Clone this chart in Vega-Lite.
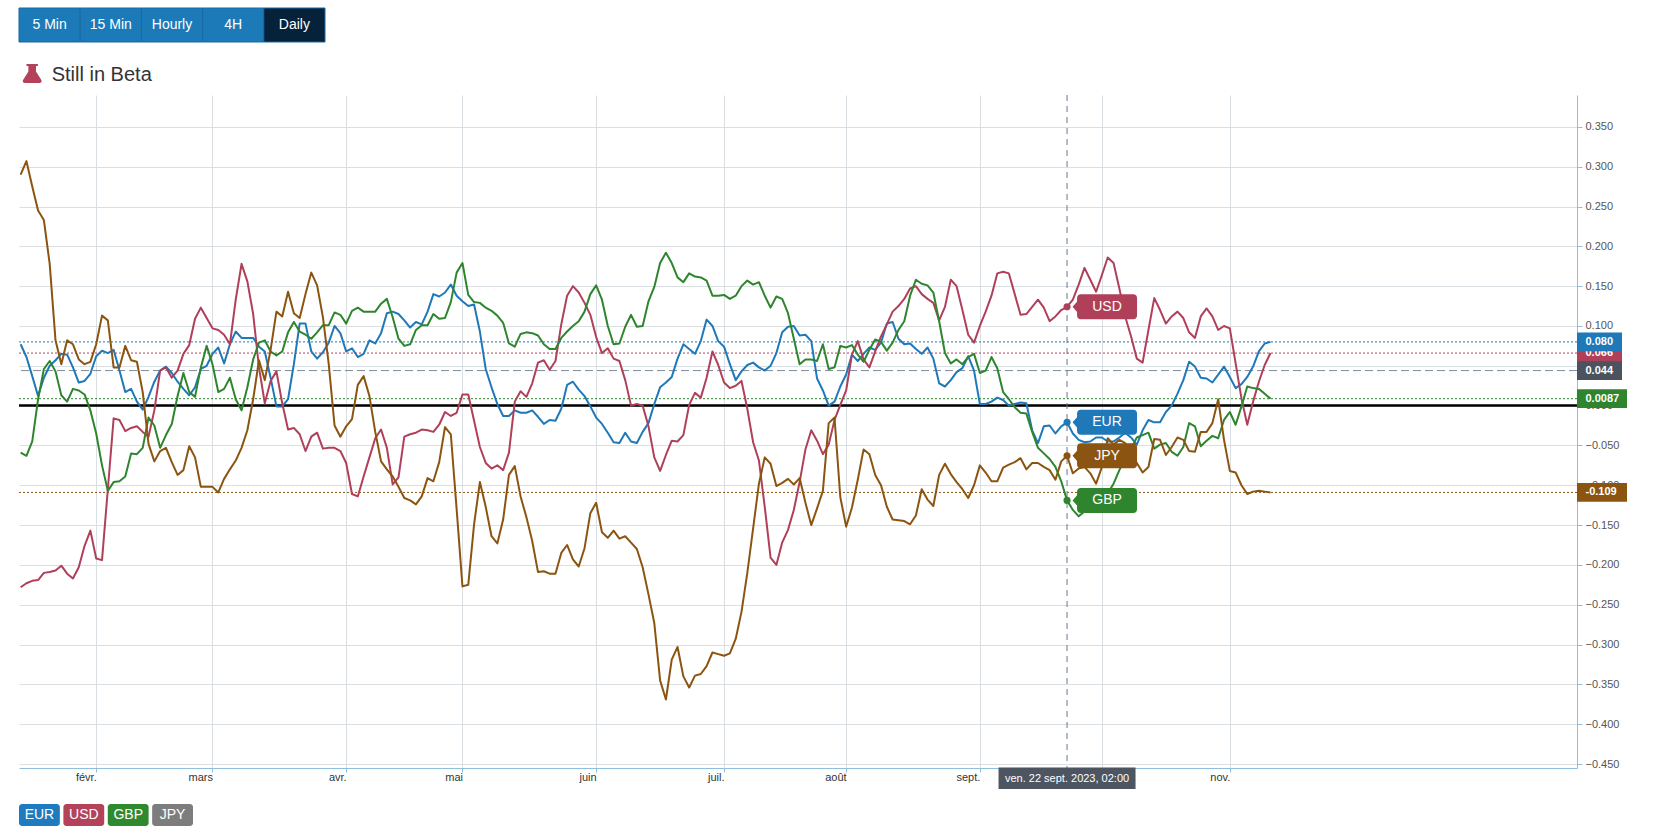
{
"$schema": "https://vega.github.io/schema/vega-lite/v6.json",
"width": 1558, "height": 673,
"autosize": {"type": "none"},
"padding": {"left": 19, "top": 95, "right": 96, "bottom": 66},
"background": "white",
"config": {"view": {"stroke": null}, "font": "Liberation Sans", "text": {"font": "Liberation Sans"}},
"datasets": {
"fx": [
{"date":"2023-01-13","EUR":0.077,"USD":-0.228,"GBP":-0.059,"JPY":0.29},
{"date":"2023-01-16","EUR":0.061,"USD":-0.223,"GBP":-0.063,"JPY":0.307},
{"date":"2023-01-17","EUR":0.037,"USD":-0.22,"GBP":-0.045,"JPY":0.275},
{"date":"2023-01-18","EUR":0.012,"USD":-0.219,"GBP":0.008,"JPY":0.245},
{"date":"2023-01-19","EUR":0.035,"USD":-0.21,"GBP":0.046,"JPY":0.233},
{"date":"2023-01-20","EUR":0.05,"USD":-0.209,"GBP":0.056,"JPY":0.178},
{"date":"2023-01-23","EUR":0.057,"USD":-0.207,"GBP":0.043,"JPY":0.082},
{"date":"2023-01-24","EUR":0.065,"USD":-0.201,"GBP":0.013,"JPY":0.052},
{"date":"2023-01-25","EUR":0.064,"USD":-0.211,"GBP":0.005,"JPY":0.082},
{"date":"2023-01-26","EUR":0.048,"USD":-0.217,"GBP":0.021,"JPY":0.077},
{"date":"2023-01-27","EUR":0.029,"USD":-0.203,"GBP":0.019,"JPY":0.058},
{"date":"2023-01-30","EUR":0.031,"USD":-0.176,"GBP":0.014,"JPY":0.052},
{"date":"2023-01-31","EUR":0.04,"USD":-0.157,"GBP":-0.006,"JPY":0.055},
{"date":"2023-02-01","EUR":0.062,"USD":-0.192,"GBP":-0.035,"JPY":0.077},
{"date":"2023-02-02","EUR":0.069,"USD":-0.194,"GBP":-0.075,"JPY":0.113},
{"date":"2023-02-03","EUR":0.066,"USD":-0.105,"GBP":-0.107,"JPY":0.107},
{"date":"2023-02-06","EUR":0.07,"USD":-0.016,"GBP":-0.096,"JPY":0.048},
{"date":"2023-02-07","EUR":0.044,"USD":-0.018,"GBP":-0.095,"JPY":0.048},
{"date":"2023-02-08","EUR":0.017,"USD":-0.032,"GBP":-0.089,"JPY":0.075},
{"date":"2023-02-09","EUR":0.021,"USD":-0.028,"GBP":-0.06,"JPY":0.057},
{"date":"2023-02-10","EUR":0.005,"USD":-0.026,"GBP":-0.061,"JPY":0.055},
{"date":"2023-02-13","EUR":-0.005,"USD":-0.033,"GBP":-0.053,"JPY":0.017},
{"date":"2023-02-14","EUR":0.011,"USD":-0.039,"GBP":-0.015,"JPY":-0.048},
{"date":"2023-02-15","EUR":0.03,"USD":-0.006,"GBP":-0.025,"JPY":-0.07},
{"date":"2023-02-16","EUR":0.044,"USD":0.044,"GBP":-0.053,"JPY":-0.057},
{"date":"2023-02-17","EUR":0.049,"USD":0.048,"GBP":-0.037,"JPY":-0.053},
{"date":"2023-02-20","EUR":0.041,"USD":0.035,"GBP":-0.023,"JPY":-0.071},
{"date":"2023-02-21","EUR":0.03,"USD":0.044,"GBP":0.012,"JPY":-0.087},
{"date":"2023-02-22","EUR":0.021,"USD":0.065,"GBP":0.041,"JPY":-0.081},
{"date":"2023-02-23","EUR":0.013,"USD":0.076,"GBP":0.017,"JPY":-0.051},
{"date":"2023-02-24","EUR":0.023,"USD":0.109,"GBP":0.011,"JPY":-0.065},
{"date":"2023-02-27","EUR":0.046,"USD":0.123,"GBP":0.048,"JPY":-0.102},
{"date":"2023-02-28","EUR":0.05,"USD":0.11,"GBP":0.075,"JPY":-0.102},
{"date":"2023-03-01","EUR":0.065,"USD":0.097,"GBP":0.052,"JPY":-0.102},
{"date":"2023-03-02","EUR":0.073,"USD":0.095,"GBP":0.017,"JPY":-0.109},
{"date":"2023-03-03","EUR":0.053,"USD":0.089,"GBP":0.021,"JPY":-0.092},
{"date":"2023-03-06","EUR":0.077,"USD":0.077,"GBP":0.035,"JPY":-0.08},
{"date":"2023-03-07","EUR":0.093,"USD":0.133,"GBP":0.008,"JPY":-0.069},
{"date":"2023-03-08","EUR":0.085,"USD":0.178,"GBP":-0.006,"JPY":-0.053},
{"date":"2023-03-09","EUR":0.085,"USD":0.156,"GBP":0.023,"JPY":-0.031},
{"date":"2023-03-10","EUR":0.085,"USD":0.115,"GBP":0.058,"JPY":0.008},
{"date":"2023-03-13","EUR":0.074,"USD":0.048,"GBP":0.079,"JPY":0.057},
{"date":"2023-03-14","EUR":0.068,"USD":0.003,"GBP":0.082,"JPY":0.032},
{"date":"2023-03-15","EUR":0.035,"USD":0.031,"GBP":0.068,"JPY":0.07},
{"date":"2023-03-16","EUR":-0.001,"USD":0.043,"GBP":0.063,"JPY":0.118},
{"date":"2023-03-17","EUR":-0.001,"USD":0.003,"GBP":0.068,"JPY":0.112},
{"date":"2023-03-20","EUR":0.008,"USD":-0.03,"GBP":0.092,"JPY":0.143},
{"date":"2023-03-21","EUR":0.052,"USD":-0.028,"GBP":0.105,"JPY":0.116},
{"date":"2023-03-22","EUR":0.103,"USD":-0.036,"GBP":0.093,"JPY":0.11},
{"date":"2023-03-23","EUR":0.103,"USD":-0.057,"GBP":0.089,"JPY":0.14},
{"date":"2023-03-24","EUR":0.068,"USD":-0.039,"GBP":0.084,"JPY":0.167},
{"date":"2023-03-27","EUR":0.059,"USD":-0.034,"GBP":0.092,"JPY":0.151},
{"date":"2023-03-28","EUR":0.067,"USD":-0.054,"GBP":0.101,"JPY":0.111},
{"date":"2023-03-29","EUR":0.079,"USD":-0.053,"GBP":0.101,"JPY":0.052},
{"date":"2023-03-30","EUR":0.1,"USD":-0.053,"GBP":0.117,"JPY":-0.025},
{"date":"2023-03-31","EUR":0.091,"USD":-0.057,"GBP":0.114,"JPY":-0.039},
{"date":"2023-04-03","EUR":0.068,"USD":-0.072,"GBP":0.103,"JPY":-0.026},
{"date":"2023-04-04","EUR":0.072,"USD":-0.111,"GBP":0.119,"JPY":-0.017},
{"date":"2023-04-05","EUR":0.061,"USD":-0.114,"GBP":0.123,"JPY":0.026},
{"date":"2023-04-06","EUR":0.065,"USD":-0.089,"GBP":0.118,"JPY":0.037},
{"date":"2023-04-07","EUR":0.082,"USD":-0.065,"GBP":0.118,"JPY":0.012},
{"date":"2023-04-10","EUR":0.078,"USD":-0.041,"GBP":0.118,"JPY":-0.033},
{"date":"2023-04-11","EUR":0.091,"USD":-0.03,"GBP":0.128,"JPY":-0.07},
{"date":"2023-04-12","EUR":0.116,"USD":-0.053,"GBP":0.134,"JPY":-0.08},
{"date":"2023-04-13","EUR":0.118,"USD":-0.099,"GBP":0.111,"JPY":-0.089},
{"date":"2023-04-14","EUR":0.115,"USD":-0.09,"GBP":0.084,"JPY":-0.102},
{"date":"2023-04-17","EUR":0.107,"USD":-0.039,"GBP":0.075,"JPY":-0.116},
{"date":"2023-04-18","EUR":0.098,"USD":-0.036,"GBP":0.077,"JPY":-0.119},
{"date":"2023-04-19","EUR":0.105,"USD":-0.034,"GBP":0.095,"JPY":-0.124},
{"date":"2023-04-20","EUR":0.102,"USD":-0.03,"GBP":0.101,"JPY":-0.114},
{"date":"2023-04-21","EUR":0.118,"USD":-0.031,"GBP":0.101,"JPY":-0.091},
{"date":"2023-04-24","EUR":0.14,"USD":-0.033,"GBP":0.115,"JPY":-0.095},
{"date":"2023-04-25","EUR":0.137,"USD":-0.024,"GBP":0.109,"JPY":-0.071},
{"date":"2023-04-26","EUR":0.142,"USD":-0.008,"GBP":0.11,"JPY":-0.027},
{"date":"2023-04-27","EUR":0.152,"USD":-0.013,"GBP":0.13,"JPY":-0.036},
{"date":"2023-04-28","EUR":0.138,"USD":-0.009,"GBP":0.167,"JPY":-0.13},
{"date":"2023-05-01","EUR":0.131,"USD":0.014,"GBP":0.179,"JPY":-0.227},
{"date":"2023-05-02","EUR":0.125,"USD":0.014,"GBP":0.139,"JPY":-0.225},
{"date":"2023-05-03","EUR":0.127,"USD":-0.019,"GBP":0.13,"JPY":-0.149},
{"date":"2023-05-04","EUR":0.093,"USD":-0.052,"GBP":0.129,"JPY":-0.096},
{"date":"2023-05-05","EUR":0.046,"USD":-0.072,"GBP":0.123,"JPY":-0.127},
{"date":"2023-05-08","EUR":0.023,"USD":-0.079,"GBP":0.119,"JPY":-0.164},
{"date":"2023-05-09","EUR":0.002,"USD":-0.075,"GBP":0.113,"JPY":-0.173},
{"date":"2023-05-10","EUR":-0.013,"USD":-0.081,"GBP":0.104,"JPY":-0.143},
{"date":"2023-05-11","EUR":-0.013,"USD":-0.059,"GBP":0.078,"JPY":-0.087},
{"date":"2023-05-12","EUR":-0.006,"USD":0.005,"GBP":0.074,"JPY":-0.076},
{"date":"2023-05-15","EUR":-0.009,"USD":0.018,"GBP":0.09,"JPY":-0.114},
{"date":"2023-05-16","EUR":-0.009,"USD":0.011,"GBP":0.092,"JPY":-0.14},
{"date":"2023-05-17","EUR":-0.006,"USD":0.028,"GBP":0.091,"JPY":-0.17},
{"date":"2023-05-18","EUR":-0.014,"USD":0.054,"GBP":0.088,"JPY":-0.209},
{"date":"2023-05-19","EUR":-0.023,"USD":0.057,"GBP":0.077,"JPY":-0.208},
{"date":"2023-05-22","EUR":-0.018,"USD":0.045,"GBP":0.071,"JPY":-0.211},
{"date":"2023-05-23","EUR":-0.019,"USD":0.056,"GBP":0.071,"JPY":-0.211},
{"date":"2023-05-24","EUR":-0.004,"USD":0.102,"GBP":0.085,"JPY":-0.185},
{"date":"2023-05-25","EUR":0.026,"USD":0.138,"GBP":0.093,"JPY":-0.175},
{"date":"2023-05-26","EUR":0.03,"USD":0.15,"GBP":0.1,"JPY":-0.193},
{"date":"2023-05-29","EUR":0.02,"USD":0.142,"GBP":0.106,"JPY":-0.202},
{"date":"2023-05-30","EUR":0.012,"USD":0.129,"GBP":0.118,"JPY":-0.179},
{"date":"2023-05-31","EUR":-0.001,"USD":0.114,"GBP":0.14,"JPY":-0.135},
{"date":"2023-06-01","EUR":-0.015,"USD":0.086,"GBP":0.151,"JPY":-0.122},
{"date":"2023-06-02","EUR":-0.023,"USD":0.066,"GBP":0.133,"JPY":-0.159},
{"date":"2023-06-05","EUR":-0.034,"USD":0.072,"GBP":0.1,"JPY":-0.166},
{"date":"2023-06-06","EUR":-0.046,"USD":0.059,"GBP":0.077,"JPY":-0.157},
{"date":"2023-06-07","EUR":-0.047,"USD":0.056,"GBP":0.078,"JPY":-0.167},
{"date":"2023-06-08","EUR":-0.034,"USD":0.032,"GBP":0.099,"JPY":-0.164},
{"date":"2023-06-09","EUR":-0.045,"USD":0.0,"GBP":0.114,"JPY":-0.172},
{"date":"2023-06-12","EUR":-0.047,"USD":0.002,"GBP":0.099,"JPY":-0.18},
{"date":"2023-06-13","EUR":-0.033,"USD":0.0,"GBP":0.1,"JPY":-0.203},
{"date":"2023-06-14","EUR":-0.022,"USD":-0.026,"GBP":0.131,"JPY":-0.237},
{"date":"2023-06-15","EUR":0.002,"USD":-0.065,"GBP":0.149,"JPY":-0.273},
{"date":"2023-06-16","EUR":0.023,"USD":-0.082,"GBP":0.179,"JPY":-0.345},
{"date":"2023-06-19","EUR":0.029,"USD":-0.062,"GBP":0.192,"JPY":-0.369},
{"date":"2023-06-20","EUR":0.036,"USD":-0.044,"GBP":0.179,"JPY":-0.319},
{"date":"2023-06-21","EUR":0.059,"USD":-0.045,"GBP":0.161,"JPY":-0.303},
{"date":"2023-06-22","EUR":0.077,"USD":-0.037,"GBP":0.155,"JPY":-0.34},
{"date":"2023-06-23","EUR":0.071,"USD":0.001,"GBP":0.166,"JPY":-0.354},
{"date":"2023-06-26","EUR":0.065,"USD":0.016,"GBP":0.162,"JPY":-0.339},
{"date":"2023-06-27","EUR":0.081,"USD":0.01,"GBP":0.161,"JPY":-0.337},
{"date":"2023-06-28","EUR":0.108,"USD":0.035,"GBP":0.157,"JPY":-0.327},
{"date":"2023-06-29","EUR":0.1,"USD":0.068,"GBP":0.138,"JPY":-0.31},
{"date":"2023-06-30","EUR":0.081,"USD":0.051,"GBP":0.138,"JPY":-0.312},
{"date":"2023-07-03","EUR":0.074,"USD":0.029,"GBP":0.139,"JPY":-0.314},
{"date":"2023-07-04","EUR":0.052,"USD":0.022,"GBP":0.134,"JPY":-0.311},
{"date":"2023-07-05","EUR":0.032,"USD":0.025,"GBP":0.138,"JPY":-0.293},
{"date":"2023-07-06","EUR":0.043,"USD":0.031,"GBP":0.15,"JPY":-0.259},
{"date":"2023-07-07","EUR":0.051,"USD":-0.004,"GBP":0.157,"JPY":-0.21},
{"date":"2023-07-10","EUR":0.054,"USD":-0.046,"GBP":0.152,"JPY":-0.154},
{"date":"2023-07-11","EUR":0.048,"USD":-0.069,"GBP":0.155,"JPY":-0.098},
{"date":"2023-07-12","EUR":0.044,"USD":-0.127,"GBP":0.138,"JPY":-0.065},
{"date":"2023-07-13","EUR":0.05,"USD":-0.191,"GBP":0.123,"JPY":-0.073},
{"date":"2023-07-14","EUR":0.066,"USD":-0.2,"GBP":0.137,"JPY":-0.101},
{"date":"2023-07-17","EUR":0.092,"USD":-0.172,"GBP":0.134,"JPY":-0.097},
{"date":"2023-07-18","EUR":0.099,"USD":-0.156,"GBP":0.116,"JPY":-0.092},
{"date":"2023-07-19","EUR":0.1,"USD":-0.131,"GBP":0.084,"JPY":-0.099},
{"date":"2023-07-20","EUR":0.088,"USD":-0.096,"GBP":0.052,"JPY":-0.091},
{"date":"2023-07-21","EUR":0.089,"USD":-0.055,"GBP":0.058,"JPY":-0.122},
{"date":"2023-07-24","EUR":0.081,"USD":-0.031,"GBP":0.058,"JPY":-0.15},
{"date":"2023-07-25","EUR":0.034,"USD":-0.044,"GBP":0.056,"JPY":-0.129},
{"date":"2023-07-26","EUR":0.019,"USD":-0.061,"GBP":0.077,"JPY":-0.107},
{"date":"2023-07-27","EUR":0.0,"USD":-0.049,"GBP":0.046,"JPY":-0.022},
{"date":"2023-07-28","EUR":0.005,"USD":-0.018,"GBP":0.048,"JPY":-0.015},
{"date":"2023-07-31","EUR":0.024,"USD":0.001,"GBP":0.075,"JPY":-0.115},
{"date":"2023-08-01","EUR":0.039,"USD":0.019,"GBP":0.073,"JPY":-0.152},
{"date":"2023-08-02","EUR":0.064,"USD":0.064,"GBP":0.076,"JPY":-0.128},
{"date":"2023-08-03","EUR":0.056,"USD":0.081,"GBP":0.064,"JPY":-0.093},
{"date":"2023-08-04","EUR":0.065,"USD":0.058,"GBP":0.055,"JPY":-0.055},
{"date":"2023-08-07","EUR":0.073,"USD":0.048,"GBP":0.07,"JPY":-0.061},
{"date":"2023-08-08","EUR":0.07,"USD":0.068,"GBP":0.083,"JPY":-0.087},
{"date":"2023-08-09","EUR":0.079,"USD":0.087,"GBP":0.08,"JPY":-0.1},
{"date":"2023-08-10","EUR":0.103,"USD":0.102,"GBP":0.069,"JPY":-0.127},
{"date":"2023-08-11","EUR":0.105,"USD":0.118,"GBP":0.079,"JPY":-0.143},
{"date":"2023-08-14","EUR":0.084,"USD":0.125,"GBP":0.095,"JPY":-0.144},
{"date":"2023-08-15","EUR":0.077,"USD":0.134,"GBP":0.106,"JPY":-0.145},
{"date":"2023-08-16","EUR":0.078,"USD":0.147,"GBP":0.138,"JPY":-0.149},
{"date":"2023-08-17","EUR":0.071,"USD":0.15,"GBP":0.158,"JPY":-0.138},
{"date":"2023-08-18","EUR":0.065,"USD":0.14,"GBP":0.153,"JPY":-0.105},
{"date":"2023-08-21","EUR":0.073,"USD":0.134,"GBP":0.151,"JPY":-0.118},
{"date":"2023-08-22","EUR":0.059,"USD":0.129,"GBP":0.142,"JPY":-0.126},
{"date":"2023-08-23","EUR":0.028,"USD":0.107,"GBP":0.106,"JPY":-0.087},
{"date":"2023-08-24","EUR":0.024,"USD":0.124,"GBP":0.066,"JPY":-0.073},
{"date":"2023-08-25","EUR":0.032,"USD":0.158,"GBP":0.053,"JPY":-0.086},
{"date":"2023-08-28","EUR":0.042,"USD":0.15,"GBP":0.058,"JPY":-0.096},
{"date":"2023-08-29","EUR":0.047,"USD":0.12,"GBP":0.052,"JPY":-0.105},
{"date":"2023-08-30","EUR":0.062,"USD":0.089,"GBP":0.061,"JPY":-0.116},
{"date":"2023-08-31","EUR":0.044,"USD":0.079,"GBP":0.065,"JPY":-0.1},
{"date":"2023-09-01","EUR":0.002,"USD":0.1,"GBP":0.041,"JPY":-0.075},
{"date":"2023-09-04","EUR":0.002,"USD":0.118,"GBP":0.044,"JPY":-0.084},
{"date":"2023-09-05","EUR":0.005,"USD":0.138,"GBP":0.061,"JPY":-0.095},
{"date":"2023-09-06","EUR":0.01,"USD":0.166,"GBP":0.047,"JPY":-0.095},
{"date":"2023-09-07","EUR":0.007,"USD":0.168,"GBP":0.017,"JPY":-0.078},
{"date":"2023-09-08","EUR":0.0,"USD":0.166,"GBP":0.008,"JPY":-0.074},
{"date":"2023-09-11","EUR":0.002,"USD":0.14,"GBP":-0.002,"JPY":-0.071},
{"date":"2023-09-12","EUR":0.004,"USD":0.114,"GBP":-0.009,"JPY":-0.066},
{"date":"2023-09-13","EUR":0.003,"USD":0.115,"GBP":-0.01,"JPY":-0.08},
{"date":"2023-09-14","EUR":-0.031,"USD":0.124,"GBP":-0.033,"JPY":-0.072},
{"date":"2023-09-15","EUR":-0.047,"USD":0.133,"GBP":-0.053,"JPY":-0.072},
{"date":"2023-09-18","EUR":-0.026,"USD":0.123,"GBP":-0.06,"JPY":-0.077},
{"date":"2023-09-19","EUR":-0.025,"USD":0.106,"GBP":-0.067,"JPY":-0.081},
{"date":"2023-09-20","EUR":-0.035,"USD":0.112,"GBP":-0.077,"JPY":-0.093},
{"date":"2023-09-21","EUR":-0.026,"USD":0.12,"GBP":-0.095,"JPY":-0.07},
{"date":"2023-09-22","EUR":-0.021,"USD":0.124,"GBP":-0.119,"JPY":-0.063},
{"date":"2023-09-25","EUR":-0.035,"USD":0.133,"GBP":-0.131,"JPY":-0.085},
{"date":"2023-09-26","EUR":-0.043,"USD":0.152,"GBP":-0.139,"JPY":-0.079},
{"date":"2023-09-27","EUR":-0.046,"USD":0.173,"GBP":-0.133,"JPY":-0.077},
{"date":"2023-09-28","EUR":-0.045,"USD":0.158,"GBP":-0.128,"JPY":-0.085},
{"date":"2023-09-29","EUR":-0.04,"USD":0.143,"GBP":-0.12,"JPY":-0.098},
{"date":"2023-10-02","EUR":-0.04,"USD":0.164,"GBP":-0.112,"JPY":-0.077},
{"date":"2023-10-03","EUR":-0.045,"USD":0.186,"GBP":-0.11,"JPY":-0.041},
{"date":"2023-10-04","EUR":-0.045,"USD":0.179,"GBP":-0.098,"JPY":-0.049},
{"date":"2023-10-05","EUR":-0.04,"USD":0.147,"GBP":-0.081,"JPY":-0.043},
{"date":"2023-10-06","EUR":-0.034,"USD":0.112,"GBP":-0.066,"JPY":-0.047},
{"date":"2023-10-09","EUR":-0.04,"USD":0.087,"GBP":-0.054,"JPY":-0.06},
{"date":"2023-10-10","EUR":-0.049,"USD":0.059,"GBP":-0.04,"JPY":-0.072},
{"date":"2023-10-11","EUR":-0.031,"USD":0.054,"GBP":-0.037,"JPY":-0.084},
{"date":"2023-10-12","EUR":-0.018,"USD":0.095,"GBP":-0.034,"JPY":-0.077},
{"date":"2023-10-13","EUR":-0.021,"USD":0.135,"GBP":-0.054,"JPY":-0.042},
{"date":"2023-10-16","EUR":-0.021,"USD":0.12,"GBP":-0.049,"JPY":-0.043},
{"date":"2023-10-17","EUR":-0.008,"USD":0.103,"GBP":-0.047,"JPY":-0.062},
{"date":"2023-10-18","EUR":0.0,"USD":0.112,"GBP":-0.058,"JPY":-0.052},
{"date":"2023-10-19","EUR":0.015,"USD":0.118,"GBP":-0.063,"JPY":-0.04},
{"date":"2023-10-20","EUR":0.032,"USD":0.11,"GBP":-0.052,"JPY":-0.043},
{"date":"2023-10-23","EUR":0.055,"USD":0.092,"GBP":-0.022,"JPY":-0.057},
{"date":"2023-10-24","EUR":0.049,"USD":0.085,"GBP":-0.026,"JPY":-0.058},
{"date":"2023-10-25","EUR":0.035,"USD":0.112,"GBP":-0.051,"JPY":-0.033},
{"date":"2023-10-26","EUR":0.034,"USD":0.122,"GBP":-0.044,"JPY":-0.033},
{"date":"2023-10-27","EUR":0.029,"USD":0.112,"GBP":-0.038,"JPY":-0.022},
{"date":"2023-10-30","EUR":0.039,"USD":0.095,"GBP":-0.041,"JPY":0.008},
{"date":"2023-10-31","EUR":0.049,"USD":0.1,"GBP":-0.018,"JPY":-0.043},
{"date":"2023-11-01","EUR":0.036,"USD":0.097,"GBP":-0.008,"JPY":-0.082},
{"date":"2023-11-02","EUR":0.022,"USD":0.053,"GBP":-0.024,"JPY":-0.084},
{"date":"2023-11-03","EUR":0.027,"USD":0.009,"GBP":-0.001,"JPY":-0.1},
{"date":"2023-11-06","EUR":0.036,"USD":-0.024,"GBP":0.024,"JPY":-0.111},
{"date":"2023-11-07","EUR":0.049,"USD":0.005,"GBP":0.022,"JPY":-0.108},
{"date":"2023-11-08","EUR":0.068,"USD":0.03,"GBP":0.021,"JPY":-0.107},
{"date":"2023-11-09","EUR":0.078,"USD":0.051,"GBP":0.015,"JPY":-0.108},
{"date":"2023-11-10","EUR":0.08,"USD":0.066,"GBP":0.0087,"JPY":-0.109}
],
"calendar": [
{"date":"2023-11-13"},{"date":"2023-11-14"},{"date":"2023-11-15"},{"date":"2023-11-16"},{"date":"2023-11-17"},
{"date":"2023-11-20"},{"date":"2023-11-21"},{"date":"2023-11-22"},{"date":"2023-11-23"},{"date":"2023-11-24"},
{"date":"2023-11-27"},{"date":"2023-11-28"},{"date":"2023-11-29"},{"date":"2023-11-30"},{"date":"2023-12-01"},
{"date":"2023-12-04"},{"date":"2023-12-05"},{"date":"2023-12-06"},{"date":"2023-12-07"},{"date":"2023-12-08"},
{"date":"2023-12-11"},{"date":"2023-12-12"},{"date":"2023-12-13"},{"date":"2023-12-14"},{"date":"2023-12-15"},
{"date":"2023-12-18"},{"date":"2023-12-19"},{"date":"2023-12-20"},{"date":"2023-12-21"},{"date":"2023-12-22"},
{"date":"2023-12-25"},{"date":"2023-12-26"},{"date":"2023-12-27"},{"date":"2023-12-28"},{"date":"2023-12-29"},
{"date":"2024-01-01"},{"date":"2024-01-02"},{"date":"2024-01-03"},{"date":"2024-01-04"},{"date":"2024-01-05"},
{"date":"2024-01-08"},{"date":"2024-01-09"},{"date":"2024-01-10"},{"date":"2024-01-11"},{"date":"2024-01-12"},
{"date":"2024-01-15"},{"date":"2024-01-16"},{"date":"2024-01-17"},{"date":"2024-01-18"},{"date":"2024-01-19"},
{"date":"2024-01-22"},{"date":"2024-01-23"}
],
"cross": [
{"date":"2023-09-22","cur":"USD","v":0.124},
{"date":"2023-09-22","cur":"EUR","v":-0.021},
{"date":"2023-09-22","cur":"JPY","v":-0.063},
{"date":"2023-09-22","cur":"GBP","v":-0.119}
],
"tip": [{"date":"2023-09-22","label":"ven. 22 sept. 2023, 02:00"}],
"ylab": [
{"cur":"USD","v":0.066,"label":"0.066"},
{"cur":"EUR","v":0.08,"label":"0.080"},
{"cur":"X","v":0.044,"label":"0.044"},
{"cur":"GBP","v":0.0087,"label":"0.0087"},
{"cur":"JPY","v":-0.109,"label":"-0.109"}
],
"buttons": [{"label":"5 Min"},{"label":"15 Min"},{"label":"Hourly"},{"label":"4H"},{"label":"Daily"}],
"legend": [{"cur":"EUR"},{"cur":"USD"},{"cur":"GBP"},{"cur":"JPY"}],
"heading": [{"text":"Still in Beta"}]
},
"layer": [
{
"layer": [
{
"data": {"values": [{}]},
"mark": {"type": "rule", "color": "black", "strokeWidth": 2.5},
"encoding": {
"y": {"datum": 0, "type": "quantitative", "title": null,
"scale": {"domain": [-0.455, 0.39], "nice": false, "zero": false},
"axis": {"orient": "right", "values": [-0.45,-0.4,-0.35,-0.3,-0.25,-0.2,-0.15,-0.1,-0.05,0,0.05,0.1,0.15,0.2,0.25,0.3,0.35], "format": ".3f", "tickSize": 5, "labelPadding": 3, "labelFontSize": 11, "labelFont": "Liberation Sans", "labelColor": "#555555", "domainColor": "#8fbfdc", "tickColor": "#8fbfdc", "gridColor": "#dadfe3", "grid": true, "title": null, "labelOverlap": false, "labelBound": false, "labelFlush": false}}
}
},
{
"data": {"name": "calendar"},
"mark": {"type": "point", "opacity": 0, "size": 1},
"encoding": {
"x": {"field": "date", "type": "ordinal", "title": null},
"y": {"datum": 0, "type": "quantitative"}
}
},
{
"data": {"name": "ylab"},
"transform": [{"filter": "datum.cur !== 'X'"}],
"mark": {"type": "rule", "strokeDash": [2, 2], "strokeWidth": 1},
"encoding": {
"y": {"field": "v", "type": "quantitative", "title": null},
"color": {"field": "cur", "type": "nominal", "legend": null, "scale": {"domain": ["EUR","USD","GBP","JPY","X"], "range": ["#1f78b8","#b0405a","#2e852e","#8b5511","#4b535e"]}}
}
},
{
"data": {"name": "ylab"},
"transform": [{"filter": "datum.cur === 'X'"}],
"mark": {"type": "rule", "strokeDash": [8, 4], "strokeWidth": 1, "color": "#7d8a9b"},
"encoding": {"y": {"field": "v", "type": "quantitative", "title": null}}
},
{
"data": {"name": "tip"},
"mark": {"type": "rule", "strokeDash": [6, 5], "strokeWidth": 1, "color": "#66788f"},
"encoding": {
"x": {"field": "date", "type": "ordinal", "title": null,
"scale": {"type": "point", "paddingOuter": 0.6, "align": 0.28},
"axis": {"values": ["2023-02-01","2023-03-01","2023-04-03","2023-05-01","2023-06-01","2023-07-03","2023-08-01","2023-09-01","2023-10-02","2023-11-01"], "labelExpr": "['janv.','févr.','mars','avr.','mai','juin','juil.','août','sept.','oct.','nov.','déc.'][toNumber(substring(datum.value,5,7))-1]", "labelAngle": 0, "tickSize": 4, "labelPadding": 5, "labelFontSize": 11, "labelFont": "Liberation Sans", "labelColor": "#333333", "domainColor": "#8fbfdc", "tickColor": "#8fbfdc", "gridColor": "#dadfe3", "grid": true, "title": null}}
}
},
{
"data": {"name": "fx"},
"transform": [{"fold": ["EUR","USD","GBP","JPY"], "as": ["cur","v"]}],
"mark": {"type": "line", "strokeWidth": 2, "strokeJoin": "round"},
"encoding": {
"x": {"field": "date", "type": "ordinal", "title": null},
"y": {"field": "v", "type": "quantitative", "title": null},
"color": {"field": "cur", "type": "nominal", "legend": null}
}
},
{
"data": {"name": "cross"},
"mark": {"type": "point", "filled": true, "size": 50, "opacity": 1},
"encoding": {
"x": {"field": "date", "type": "ordinal", "title": null},
"y": {"field": "v", "type": "quantitative", "title": null},
"color": {"field": "cur", "type": "nominal", "legend": null}
}
},
{
"data": {"name": "cross"},
"mark": {"type": "point", "filled": true, "opacity": 1, "size": 3600, "strokeWidth": 0, "xOffset": 40,
"shape": "M-0.867,-0.4167 L0.867,-0.4167 Q1,-0.4167 1,-0.283 L1,0.283 Q1,0.4167 0.867,0.4167 L-0.867,0.4167 Q-1,0.4167 -1,0.283 L-1,0.17 L-1.15,0 L-1,-0.17 L-1,-0.283 Q-1,-0.4167 -0.867,-0.4167 Z"},
"encoding": {
"x": {"field": "date", "type": "ordinal", "title": null},
"y": {"field": "v", "type": "quantitative", "title": null},
"color": {"field": "cur", "type": "nominal", "legend": null}
}
},
{
"data": {"name": "cross"},
"mark": {"type": "text", "color": "white", "fontSize": 14, "xOffset": 40, "align": "center", "baseline": "middle", "font": "Liberation Sans"},
"encoding": {
"x": {"field": "date", "type": "ordinal", "title": null},
"y": {"field": "v", "type": "quantitative", "title": null},
"text": {"field": "cur"}
}
},
{
"data": {"name": "ylab"},
"transform": [{"filter": "datum.cur === 'USD'"}],
"mark": {"type": "rect", "x2Offset": 45, "yOffset": -9.35, "y2Offset": 9.35},
"encoding": {
"x": {"value": "width"}, "x2": {"value": "width"},
"y": {"field": "v", "type": "quantitative", "title": null}, "y2": {"field": "v"},
"color": {"field": "cur", "type": "nominal", "legend": null}
}
},
{
"data": {"name": "ylab"},
"transform": [{"filter": "datum.cur === 'USD'"}],
"mark": {"type": "text", "color": "white", "fontSize": 11, "fontWeight": "bold", "align": "left", "baseline": "middle", "dx": 8.5, "font": "Liberation Sans"},
"encoding": {"x": {"value": "width"}, "y": {"field": "v", "type": "quantitative", "title": null}, "text": {"field": "label"}}
},
{
"data": {"name": "ylab"},
"transform": [{"filter": "datum.cur === 'EUR' || datum.cur === 'X'"}],
"mark": {"type": "rect", "x2Offset": 45, "yOffset": -9.35, "y2Offset": 9.35},
"encoding": {
"x": {"value": "width"}, "x2": {"value": "width"},
"y": {"field": "v", "type": "quantitative", "title": null}, "y2": {"field": "v"},
"color": {"field": "cur", "type": "nominal", "legend": null}
}
},
{
"data": {"name": "ylab"},
"transform": [{"filter": "datum.cur === 'GBP' || datum.cur === 'JPY'"}],
"mark": {"type": "rect", "x2Offset": 50, "yOffset": -9.35, "y2Offset": 9.35},
"encoding": {
"x": {"value": "width"}, "x2": {"value": "width"},
"y": {"field": "v", "type": "quantitative", "title": null}, "y2": {"field": "v"},
"color": {"field": "cur", "type": "nominal", "legend": null}
}
},
{
"data": {"name": "ylab"},
"transform": [{"filter": "datum.cur !== 'USD'"}],
"mark": {"type": "text", "color": "white", "fontSize": 11, "fontWeight": "bold", "align": "left", "baseline": "middle", "dx": 8.5, "font": "Liberation Sans"},
"encoding": {"x": {"value": "width"}, "y": {"field": "v", "type": "quantitative", "title": null}, "text": {"field": "label"}}
},
{
"data": {"name": "tip"},
"mark": {"type": "point", "filled": true, "opacity": 1, "size": 18769, "strokeWidth": 0, "color": "#4d5561", "yOffset": 10.3,
"shape": "M-1,-0.156 L1,-0.156 L1,0.156 L-1,0.156 Z"},
"encoding": {"x": {"field": "date", "type": "ordinal", "title": null}, "y": {"value": "height"}}
},
{
"data": {"name": "tip"},
"mark": {"type": "text", "color": "white", "fontSize": 11, "align": "center", "baseline": "middle", "yOffset": 10.5, "font": "Liberation Sans"},
"encoding": {"x": {"field": "date", "type": "ordinal", "title": null}, "y": {"value": "height"}, "text": {"field": "label"}}
}
]
},
{
"data": {"name": "buttons"},
"layer": [
{
"mark": {"type": "bar", "stroke": "#1869a2", "strokeWidth": 1},
"encoding": {
"x": {"field": "label", "type": "nominal", "axis": null, "scale": {"type": "band", "domain": ["5 Min","15 Min","Hourly","4H","Daily"], "range": [0, 306], "paddingInner": 0, "paddingOuter": 0}},
"y": {"value": -87}, "y2": {"value": -53},
"color": {"condition": {"test": "datum.label === 'Daily'", "value": "#06223b"}, "value": "#1c7ab8"}
}
},
{
"mark": {"type": "text", "color": "white", "fontSize": 14, "baseline": "middle", "align": "center", "font": "Liberation Sans"},
"encoding": {
"x": {"field": "label", "type": "nominal", "axis": null},
"y": {"value": -70},
"text": {"field": "label"}
}
}
]
},
{
"data": {"name": "legend"},
"layer": [
{
"mark": {"type": "bar", "cornerRadius": 3},
"encoding": {
"x": {"field": "cur", "type": "nominal", "axis": null, "scale": {"type": "band", "domain": ["EUR","USD","GBP","JPY"], "range": [0, 174], "paddingInner": 0.08, "paddingOuter": 0}},
"y": {"value": 709}, "y2": {"value": 731},
"color": {"field": "cur", "type": "nominal", "legend": null, "scale": {"domain": ["EUR","USD","GBP","JPY"], "range": ["#1f7bbf","#b3435a","#2f8a2f","#7d7d7d"]}}
}
},
{
"mark": {"type": "text", "color": "white", "fontSize": 14, "baseline": "middle", "align": "center", "font": "Liberation Sans"},
"encoding": {
"x": {"field": "cur", "type": "nominal", "axis": null},
"y": {"value": 720},
"text": {"field": "cur"}
}
}
]
},
{
"data": {"name": "heading"},
"layer": [
{
"mark": {"type": "text", "fontSize": 20, "color": "#333333", "align": "left", "baseline": "alphabetic", "font": "Liberation Sans"},
"encoding": {"x": {"value": 32.7}, "y": {"value": -14.3}, "text": {"field": "text"}}
},
{
"mark": {"type": "point", "filled": true, "opacity": 1, "size": 361, "color": "#b3435a", "strokeWidth": 0,
"shape": "M-0.6,-1 L0.6,-1 L0.6,-0.78 L0.4,-0.78 L0.4,-0.2 L0.98,0.72 Q1.05,1 0.75,1 L-0.75,1 Q-1.05,1 -0.98,0.72 L-0.4,-0.2 L-0.4,-0.78 L-0.6,-0.78 Z"},
"encoding": {"x": {"value": 13.2}, "y": {"value": -21.5}}
}
]
}
],
"resolve": {"scale": {"x": "independent", "color": "independent"}}
}
